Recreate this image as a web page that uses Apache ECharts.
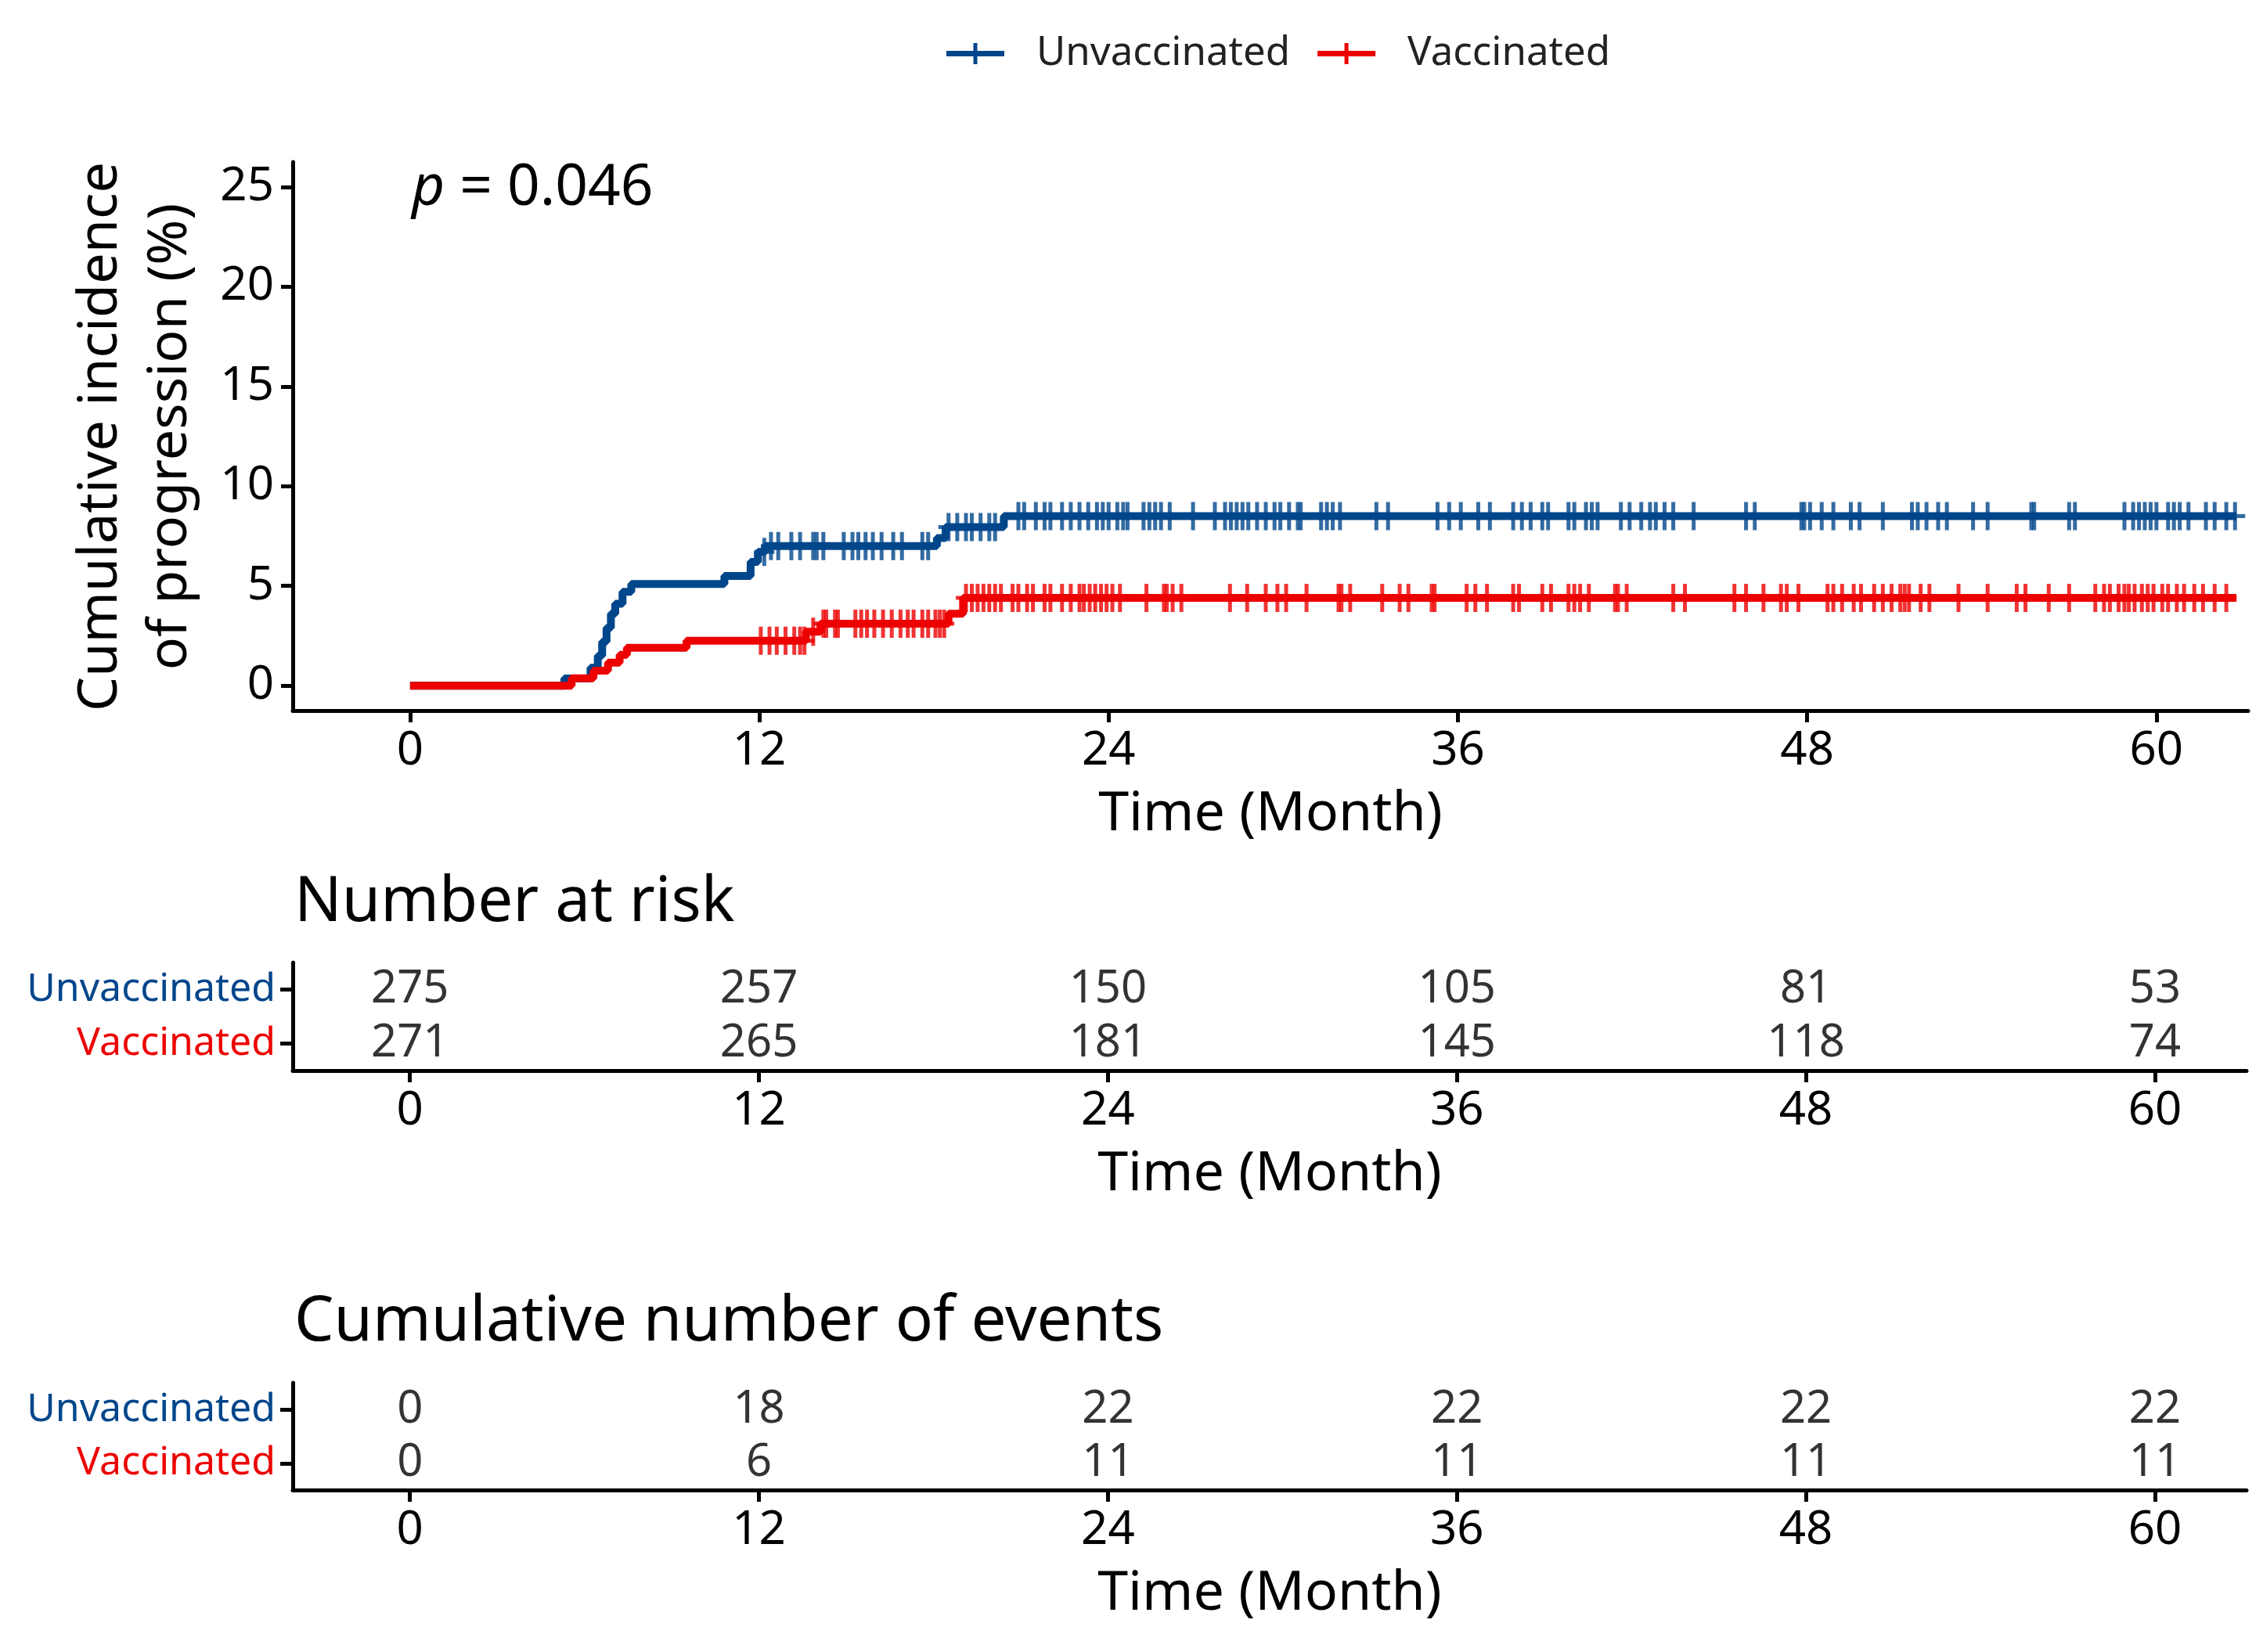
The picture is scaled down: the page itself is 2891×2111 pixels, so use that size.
<!DOCTYPE html>
<html>
<head>
<meta charset="utf-8">
<script src="https://cdn.jsdelivr.net/npm/echarts@6/dist/echarts.min.js"></script>
<style>
html,body{margin:0;padding:0;background:#fff;}
#chart{width:2891px;height:2111px;}
</style>
</head>
<body>
<div id="chart"></div>
<script>
// ---------- data ----------
const groups = ['Unvaccinated', 'Vaccinated'];
const timeTicks = [0, 12, 24, 36, 48, 60];
const yTicks = [0, 5, 10, 15, 20, 25];
const pValueText = '0.046';

// cumulative incidence (%) step points [month, value]
const unvaccCurve = [[0,0],[5.3,0.36],[6.2,0.9],[6.45,1.5],[6.6,2.2],[6.75,2.9],[6.9,3.6],[7.05,4.1],[7.3,4.7],[7.6,5.1],[10.8,5.5],[11.7,6.2],[11.95,6.7],[12.2,7.0],[18.1,7.4],[18.4,7.95],[20.4,8.5],[62.75,8.5]];
const vaccCurve = [[0,0],[5.55,0.37],[6.3,0.75],[6.8,1.15],[7.2,1.55],[7.45,1.9],[9.5,2.25],[13.6,2.7],[14.1,3.1],[18.5,3.6],[19.0,4.4],[62.75,4.4]];

// censoring times (months)
const unvaccCensor = [12.17,12.4,12.65,13.1,13.4,13.85,13.97,14.2,14.9,15.2,15.4,15.65,15.9,16.2,16.6,16.9,17.6,17.8,18.5,18.8,19.1,19.3,19.6,19.9,20.1,20.9,21.1,21.5,21.8,22.0,22.4,22.7,23.0,23.3,23.6,23.8,24.0,24.3,24.5,24.65,25.2,25.4,25.6,25.8,26.1,26.9,27.65,28.0,28.2,28.4,28.6,28.8,29.1,29.4,29.7,29.9,30.2,30.5,30.6,31.3,31.5,31.7,31.95,33.2,33.6,35.3,35.7,36.1,36.7,37.1,37.9,38.2,38.5,38.9,39.1,39.8,40.0,40.4,40.6,40.8,41.6,41.9,42.3,42.6,42.8,43.1,43.4,44.1,45.9,46.2,47.8,47.9,48.1,48.5,48.9,49.5,49.8,50.6,51.6,51.8,52.1,52.5,52.8,53.7,54.2,55.7,55.8,57.0,57.2,58.9,59.2,59.4,59.6,59.8,60.0,60.4,60.6,60.8,61.1,61.7,62.0,62.4,62.7];
const vaccCensor = [12.05,12.35,12.6,12.9,13.2,13.4,13.55,13.85,14.2,14.3,14.6,14.7,15.3,15.5,15.7,15.95,16.25,16.55,16.85,17.1,17.3,17.6,17.8,18.05,18.2,18.35,19.1,19.3,19.5,19.7,19.9,20.1,20.3,20.7,20.9,21.2,21.4,21.8,22.0,22.4,22.7,23.0,23.15,23.35,23.54,23.74,23.93,24.13,24.39,25.3,25.9,26.0,26.2,26.5,28.17,28.76,29.4,29.8,30.1,30.8,31.9,32.0,32.3,33.4,34.0,34.3,35.1,35.2,36.3,36.6,37.0,37.9,38.1,38.9,39.2,39.8,40.0,40.2,40.5,41.4,41.5,41.8,43.4,43.8,45.5,45.9,46.5,47.1,47.3,47.7,48.7,48.9,49.2,49.6,49.85,50.3,50.6,50.9,51.2,51.35,51.5,51.9,52.2,53.2,54.2,55.2,55.5,56.3,57.0,57.9,58.2,58.4,58.7,58.9,59.05,59.25,59.5,59.7,59.9,60.2,60.4,60.7,60.95,61.3,61.6,62.0,62.4];

// risk tables
const atRiskUnvacc = [275, 257, 150, 105, 81, 53];
const atRiskVacc = [271, 265, 181, 145, 118, 74];
const eventsUnvacc = [0, 18, 22, 22, 22, 22];
const eventsVacc = [0, 6, 11, 11, 11, 11];

// ---------- styling ----------
const BLUE = '#00468B';
const RED = '#ED0000';
const FONT = 'Noto Sans';
const colorOf = {Unvaccinated: BLUE, Vaccinated: RED};
const plusPath = 'path://M10.5,0 L15.5,0 L15.5,15.5 L26,15.5 L26,20.5 L15.5,20.5 L15.5,36 L10.5,36 L10.5,20.5 L0,20.5 L0,15.5 L10.5,15.5 Z';
const legendIcon = 'path://M0,10 L74,10 L74,17 L0,17 Z M34.5,0 L39.5,0 L39.5,27 L34.5,27 Z';

function valueAt(curve, t) {
  let v = 0;
  for (const p of curve) { if (p[0] <= t) v = p[1]; else break; }
  return v;
}

const XMIN = -4.03, XMAX = 63.15;
const AXW = 5;

function xAxisFor(gridIndex) {
  return {
    type: 'value', gridIndex: gridIndex, min: XMIN, max: XMAX,
    splitLine: {show: false},
    axisLine: {show: true, onZero: false, lineStyle: {color: '#000', width: AXW}},
    axisTick: {show: true, customValues: timeTicks, length: 15, lineStyle: {color: '#000', width: AXW}},
    axisLabel: {customValues: timeTicks, fontSize: 60, color: '#000', fontFamily: FONT, margin: 22},
    name: 'Time (Month)', nameLocation: 'middle', nameGap: 98,
    nameTextStyle: {fontSize: 70, color: '#000', fontFamily: FONT}
  };
}
function tableYAxis(gridIndex) {
  return {
    type: 'category', gridIndex: gridIndex, data: ['Vaccinated', 'Unvaccinated'],
    axisLine: {show: true, onZero: false, lineStyle: {color: '#000', width: AXW}},
    axisTick: {show: true, alignWithLabel: true, length: 16, lineStyle: {color: '#000', width: AXW}},
    axisLabel: {fontSize: 50, fontFamily: FONT, margin: 22, color: function (v) { return colorOf[v]; }},
    splitLine: {show: false}
  };
}
function tableSeries(gridIndex, unv, vac) {
  const data = [];
  timeTicks.forEach((t, i) => { data.push([t, 'Unvaccinated', unv[i]]); data.push([t, 'Vaccinated', vac[i]]); });
  return {
    type: 'scatter', xAxisIndex: gridIndex, yAxisIndex: gridIndex, data: data,
    symbolSize: 1, itemStyle: {color: 'transparent'}, silent: true,
    label: {show: true, position: 'inside', formatter: p => String(p.value[2]), fontSize: 58, color: '#000', fontFamily: FONT}
  };
}

const option = {
  animation: false,
  backgroundColor: '#fff',
  textStyle: {fontFamily: FONT},
  legend: {
    left: 1204, top: 38, itemWidth: 74, itemHeight: 27, itemGap: 35,
    data: [{name: 'Unvaccinated', icon: legendIcon}, {name: 'Vaccinated', icon: legendIcon}],
    textStyle: {fontSize: 51, color: '#222', fontFamily: FONT, padding: [0, 0, 0, 36]}
  },
  grid: [
    {left: 374, right: 19, top: 207, height: 701},
    {left: 374, right: 21, top: 1230, height: 138},
    {left: 374, right: 21, top: 1767, height: 137}
  ],
  xAxis: [xAxisFor(0), xAxisFor(1), xAxisFor(2)],
  yAxis: [
    {
      type: 'value', gridIndex: 0, min: -1.25, max: 26.25,
      splitLine: {show: false},
      axisLine: {show: true, onZero: false, lineStyle: {color: '#000', width: AXW}},
      axisTick: {show: true, customValues: yTicks, length: 15, lineStyle: {color: '#000', width: AXW}},
      axisLabel: {customValues: yTicks, fontSize: 60, color: '#000', fontFamily: FONT, margin: 24}
    },
    tableYAxis(1), tableYAxis(2)
  ],
  graphic: [
    {type: 'text', x: 174, y: 558, rotation: Math.PI / 2,
      style: {text: 'Cumulative incidence\nof progression (%)', fontSize: 70, lineHeight: 89, fill: '#000', fontFamily: FONT, align: 'center', verticalAlign: 'middle'}},
    {type: 'text', x: 526, y: 241,
      style: {text: '{i|p} = ' + pValueText, fontSize: 73, fill: '#000', fontFamily: FONT, verticalAlign: 'middle',
        rich: {i: {fontStyle: 'italic', fontSize: 73, fontFamily: FONT}}}},
    {type: 'text', x: 376, y: 1154,
      style: {text: 'Number at risk', fontSize: 80, fill: '#000', fontFamily: FONT, verticalAlign: 'middle'}},
    {type: 'text', x: 376, y: 1690,
      style: {text: 'Cumulative number of events', fontSize: 80, fill: '#000', fontFamily: FONT, verticalAlign: 'middle'}}
  ],
  series: [
    {name: 'Unvaccinated', type: 'line', step: 'end', data: unvaccCurve, showSymbol: false,
      color: BLUE, lineStyle: {width: 10, color: BLUE}},
    {name: 'Vaccinated', type: 'line', step: 'end', data: vaccCurve, showSymbol: false,
      color: RED, lineStyle: {width: 10, color: RED}},
    {name: 'Unvaccinated', type: 'scatter', data: unvaccCensor.map(t => [t, valueAt(unvaccCurve, t)]),
      symbol: plusPath, symbolSize: [26, 36], itemStyle: {color: BLUE}, color: BLUE},
    {name: 'Vaccinated', type: 'scatter', data: vaccCensor.map(t => [t, valueAt(vaccCurve, t)]),
      symbol: plusPath, symbolSize: [26, 36], itemStyle: {color: RED}, color: RED},
    tableSeries(1, atRiskUnvacc, atRiskVacc),
    tableSeries(2, eventsUnvacc, eventsVacc)
  ]
};

const chart = echarts.init(document.getElementById('chart'));
chart.setOption(option);
</script>
</body>
</html>
